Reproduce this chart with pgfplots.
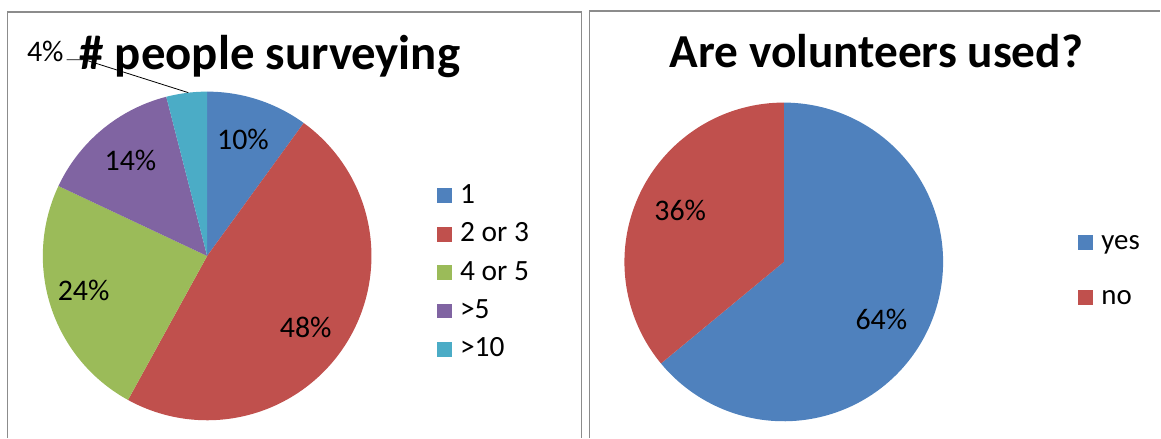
\documentclass[border=0pt]{standalone}
\usepackage{fontspec}
\setmainfont{Carlito}
\usepackage{pgfplots}
\pgfplotsset{compat=1.18}
\definecolor{cBlue}{HTML}{4F81BD}
\definecolor{cRed}{HTML}{C0504D}
\definecolor{cGreen}{HTML}{9BBB59}
\definecolor{cPurple}{HTML}{8064A2}
\definecolor{cCyan}{HTML}{4BACC6}
\definecolor{frameGray}{RGB}{140,140,140}
% shares in percent
\def\pA{10}\def\pB{48}\def\pC{24}\def\pD{14}\def\pE{4}
\def\pYes{64}\def\pNo{36}
\pgfmathsetmacro\aA{90}
\pgfmathsetmacro\aB{\aA-3.6*\pA}
\pgfmathsetmacro\aC{\aB-3.6*\pB}
\pgfmathsetmacro\aD{\aC-3.6*\pC}
\pgfmathsetmacro\aE{\aD-3.6*\pD}
\pgfmathsetmacro\aF{\aE-3.6*\pE}
\pgfmathsetmacro\bA{90}
\pgfmathsetmacro\bB{\bA-3.6*\pYes}
\pgfmathsetmacro\bC{\bB-3.6*\pNo}
\begin{document}
\begin{tikzpicture}
\pgfplotsset{panel/.style={xmin=0,xmax=1161,ymin=0,ymax=437,y dir=reverse,
  width=1161bp,height=437bp,scale only axis,hide axis,clip=false}}
% ---------- left pie ----------
\begin{axis}[panel,
  legend image code/.code={\path[fill=none,draw=none] (0bp,-6bp) rectangle (15bp,20bp);\fill[#1] (0bp,0bp) rectangle (15bp,15bp);},
  legend style={draw=none,fill=none,inner sep=0pt,outer sep=0pt,
    at={(axis cs:439,184)},anchor=north west,row sep=12.6bp,column sep=8bp,
    font=\fontsize{29.5bp}{31bp}\selectfont,
    cells={anchor=base west},
    nodes={inner sep=0pt,outer sep=0pt,text height=20bp,text depth=6bp}}]
\path (axis cs:0,0) rectangle (axis cs:1161,437);
\draw[frameGray,line width=1.6bp] (axis cs:7.5,440) -- (axis cs:7.5,12) -- (axis cs:584,12) -- (axis cs:584,440);
\addplot[fill=cBlue,draw=none,domain=\aB:\aA,samples=60,variable=\t]
  ({208+165*cos(\t)},{257-165*sin(\t)}) -- (axis cs:208,257) -- cycle;
\addlegendentry{1}
\addplot[fill=cRed,draw=none,domain=\aC:\aB,samples=120,variable=\t]
  ({208+165*cos(\t)},{257-165*sin(\t)}) -- (axis cs:208,257) -- cycle;
\addlegendentry{2 or 3}
\addplot[fill=cGreen,draw=none,domain=\aD:\aC,samples=80,variable=\t]
  ({208+165*cos(\t)},{257-165*sin(\t)}) -- (axis cs:208,257) -- cycle;
\addlegendentry{4 or 5}
\addplot[fill=cPurple,draw=none,domain=\aE:\aD,samples=60,variable=\t]
  ({208+165*cos(\t)},{257-165*sin(\t)}) -- (axis cs:208,257) -- cycle;
\addlegendentry{>5}
\addplot[fill=cCyan,draw=none,domain=\aF:\aE,samples=30,variable=\t]
  ({208+165*cos(\t)},{257-165*sin(\t)}) -- (axis cs:208,257) -- cycle;
\addlegendentry{>10}
\node[anchor=base,font=\fontsize{49bp}{52bp}\selectfont\bfseries] at (axis cs:271,70) {\# people surveying};
\begin{scope}[font=\fontsize{30bp}{32bp}\selectfont]
\node[anchor=base] at (axis cs:244,150) {10\%};
\node[anchor=base] at (axis cs:307,339) {48\%};
\node[anchor=base] at (axis cs:84,302) {24\%};
\node[anchor=base] at (axis cs:131,171) {14\%};
\node[anchor=base] at (axis cs:45.5,62) {4\%};
\end{scope}
\draw[black,line width=0.8bp] (axis cs:67,60) -- (axis cs:85,60) -- (axis cs:189,93);
\end{axis}
% ---------- right pie ----------
\begin{axis}[panel,
  legend image code/.code={\path[fill=none,draw=none] (0bp,-6bp) rectangle (16bp,20bp);\fill[#1] (0bp,0bp) rectangle (16bp,15bp);},
  legend style={draw=none,fill=none,inner sep=0pt,outer sep=0pt,
    at={(axis cs:1082,231)},anchor=north west,row sep=29bp,column sep=8bp,
    font=\fontsize{29bp}{31bp}\selectfont,
    cells={anchor=base west},
    nodes={inner sep=0pt,outer sep=0pt,text height=20bp,text depth=6bp}}]
\draw[frameGray,line width=1.6bp] (axis cs:592,440) -- (axis cs:592,11) -- (axis cs:1165,11);
\addplot[fill=cBlue,draw=none,domain=\bB:\bA,samples=150,variable=\t]
  ({787+160*cos(\t)},{263-160*sin(\t)}) -- (axis cs:787,263) -- cycle;
\addlegendentry{yes}
\addplot[fill=cRed,draw=none,domain=\bC:\bB,samples=100,variable=\t]
  ({787+160*cos(\t)},{263-160*sin(\t)}) -- (axis cs:787,263) -- cycle;
\addlegendentry{no}
\node[anchor=base,font=\fontsize{47.5bp}{52bp}\selectfont\bfseries] at (axis cs:880,68) {Are volunteers used?};
\begin{scope}[font=\fontsize{30bp}{32bp}\selectfont]
\node[anchor=base] at (axis cs:683,221) {36\%};
\node[anchor=base] at (axis cs:885,331) {64\%};
\end{scope}
\end{axis}
\end{tikzpicture}
\end{document}
